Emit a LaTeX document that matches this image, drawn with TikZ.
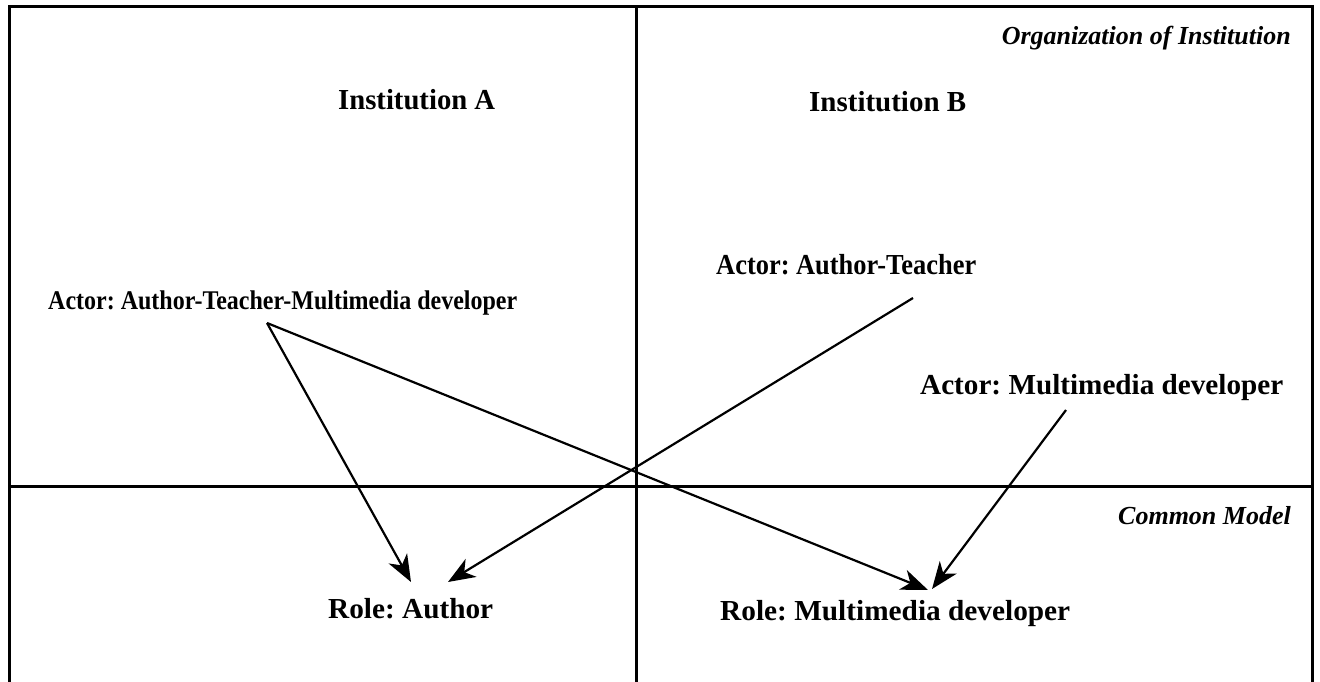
\documentclass[tikz,border=0pt]{standalone}
\usepackage{fontspec}
\setmainfont{Liberation Serif}
\usetikzlibrary{arrows.meta}
\newcommand{\fitw}[2]{\resizebox{#1}{\height}{#2}}
\frenchspacing
\begin{document}
\begin{tikzpicture}[x=1pt,y=-1pt,
  lbl/.style={inner sep=0pt,font=\fontsize{29}{33}\selectfont\bfseries},
  slbl/.style={inner sep=0pt,font=\fontsize{27}{31}\selectfont\bfseries},
  ilbl/.style={inner sep=0pt,font=\fontsize{26}{30}\selectfont\bfseries\itshape},
  frame/.style={line width=3pt},
  conn/.style={line width=2.2pt,-{Stealth[length=27pt,width=21pt,inset=8pt]}}]
\useasboundingbox (0,0) rectangle (1320,682);
\fill[white] (0,0) rectangle (1320,682);
% frame
\draw[frame] (9,682) -- (9,7) -- (1312,7) -- (1312,682);
\draw[frame] (636,7) -- (636,682);
\draw[frame] (9,486) -- (1312,486);
% labels
\node[ilbl,anchor=base east] (org) at (1291,45) {Organization of Institution};
\node[ilbl,anchor=base east] (cm) at (1291,524) {Common Model};
\node[lbl,anchor=base west] (ia) at (338,110) {\fitw{157pt}{Institution A}};
\node[lbl,anchor=base west] (ib) at (809,112) {\fitw{157pt}{Institution B}};
\node[lbl,anchor=base west] (aat) at (716,274) {\fitw{260pt}{Actor: Author-Teacher}};
\node[slbl,anchor=base west] (aatm) at (48,309) {\fitw{469pt}{Actor: Author-Teacher-Multimedia developer}};
\node[lbl,anchor=base west] (amd) at (920,394) {\fitw{363pt}{Actor: Multimedia developer}};
\node[lbl,anchor=base west] (ra) at (328,618) {\fitw{165pt}{Role: Author}};
\node[lbl,anchor=base west] (rmd) at (720,620) {\fitw{350pt}{Role: Multimedia developer}};
% connector ends
\coordinate (s1) at (267,323);
\coordinate (s2) at (913,298);
\coordinate (s3) at (1066,410);
\coordinate (t1) at (411,582);
\coordinate (t2) at (448,582);
\coordinate (t3) at (928,590);
\coordinate (t4) at (932,589);
\draw[conn] (s1) -- (t1);
\draw[conn] (s1) -- (t3);
\draw[conn] (s2) -- (t2);
\draw[conn] (s3) -- (t4);
\end{tikzpicture}
\end{document}
